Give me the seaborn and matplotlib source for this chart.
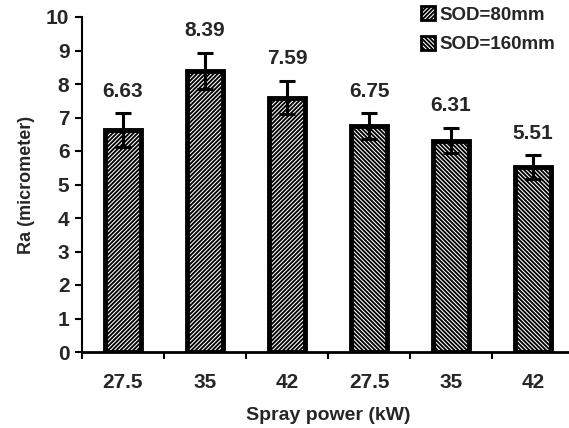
import matplotlib
matplotlib.use("Agg")
import matplotlib.pyplot as plt
import seaborn as sns
import pandas as pd
import numpy as np
from matplotlib.patches import Patch

# ---- data ----
positions = ["p1", "p2", "p3", "p4", "p5", "p6"]
power_labels = ["27.5", "35", "42", "27.5", "35", "42"]
sod_groups = ["SOD=80mm", "SOD=80mm", "SOD=80mm", "SOD=160mm", "SOD=160mm", "SOD=160mm"]
ra_values = [6.63, 8.39, 7.59, 6.75, 6.31, 5.51]
ra_errors = [0.50, 0.55, 0.50, 0.38, 0.38, 0.36]
value_labels = ["6.63", "8.39", "7.59", "6.75", "6.31", "5.51"]

df = pd.DataFrame({"pos": positions, "Ra": ra_values, "SOD": sod_groups})

sns.set_theme(style="white")
plt.rcParams["font.family"] = ["Liberation Sans", "DejaVu Sans"]
plt.rcParams["font.weight"] = "bold"
plt.rcParams["hatch.linewidth"] = 1.35

fig = plt.figure(figsize=(5.69, 4.28), dpi=100)
ax = fig.add_axes([82 / 569, 76 / 428, 492 / 569, 335 / 428])

hatches = {"SOD=80mm": "/" * 8, "SOD=160mm": "\\" * 8}
sns.barplot(data=df, x="pos", y="Ra", hue="SOD", order=positions,
            hue_order=["SOD=80mm", "SOD=160mm"], dodge=False,
            palette={"SOD=80mm": "white", "SOD=160mm": "white"},
            width=0.44, edgecolor="black", linewidth=3.5, legend=False, ax=ax)

for p in ax.patches:
    if p.get_height() == 0 or np.isnan(p.get_height()):
        continue
    cx = p.get_x() + p.get_width() / 2
    idx = int(round(cx))
    p.set_hatch(hatches[sod_groups[idx]])
    p.set_edgecolor("black")

xs = np.arange(len(positions))
ax.errorbar(xs, ra_values, yerr=ra_errors, fmt="none", ecolor="black",
            elinewidth=2.2, capsize=6, capthick=2.2, zorder=5)

for x, v, e, lab in zip(xs, ra_values, ra_errors, value_labels):
    ax.annotate(lab, (x, v + e), xytext=(0, 9), textcoords="offset points",
                ha="center", va="bottom", fontsize=15, fontweight="bold")

ax.set_xlim(-0.5, 5.5)
ax.set_ylim(0, 10)
ax.set_yticks(range(0, 11))
ax.set_yticklabels([str(i) for i in range(0, 11)], fontsize=15, fontweight="bold")

ax.set_xticks(np.arange(-0.5, 6.0, 1.0))
ax.set_xticklabels([])
ax.set_xticks(xs, minor=True)
ax.set_xticklabels(power_labels, minor=True, fontsize=15, fontweight="bold")
ax.tick_params(axis="x", which="major", direction="out", length=5, width=1.5, color="black", bottom=True)
ax.tick_params(axis="x", which="minor", length=0, pad=15)
ax.tick_params(axis="y", direction="out", length=5, width=1.5, color="black", left=True, pad=4)

for s in ["top", "right"]:
    ax.spines[s].set_visible(False)
ax.spines["left"].set_linewidth(1.5)
ax.spines["left"].set_color("black")
ax.spines["bottom"].set_linewidth(2)
ax.spines["bottom"].set_color("black")

ax.set_xlabel("Spray power (kW)", fontsize=14, fontweight="bold", labelpad=11)
ax.set_ylabel("Ra (micrometer)", fontsize=13, fontweight="bold", labelpad=8)

handles = [Patch(facecolor="white", edgecolor="black", hatch=hatches[k], linewidth=2) for k in ["SOD=80mm", "SOD=160mm"]]
fig.legend(handles, ["SOD=80mm", "SOD=160mm"], loc="upper left",
           bbox_to_anchor=(404 / 569, 1.025), frameon=False,
           prop={"size": 13.5, "weight": "bold"}, handlelength=0.75, handleheight=0.75,
           handletextpad=0.25, labelspacing=0.65)

fig.savefig("out.png", dpi=100)
